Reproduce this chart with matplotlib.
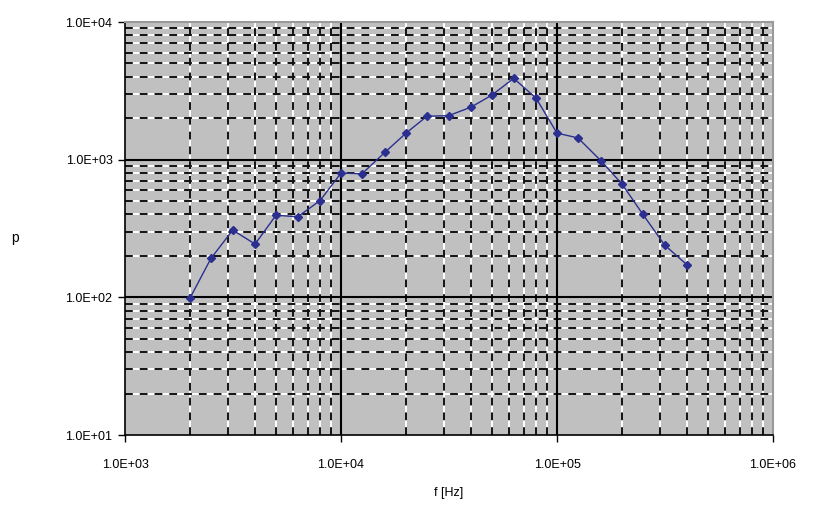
import matplotlib
matplotlib.use("Agg")
import matplotlib.pyplot as plt
import numpy as np

freq = [2000, 2500, 3150, 4000, 5000, 6300, 8000, 10000, 12500, 16000, 20000, 25000,
        31500, 40000, 50000, 63000, 80000, 100000, 125000, 160000, 200000, 250000, 315000, 400000]
p_vals = [99, 192, 308, 244, 395, 385, 505, 800, 790, 1135, 1560, 2070,
          2090, 2410, 2950, 3900, 2800, 1560, 1440, 980, 665, 400, 240, 172]
x_ticks = [1e3, 1e4, 1e5, 1e6]
y_ticks = [1e1, 1e2, 1e3, 1e4]

plt.rcParams['font.family'] = ['Liberation Sans', 'DejaVu Sans']

fig = plt.figure(figsize=(8.13, 5.13), dpi=100)
ax = fig.add_axes([0.1538, 0.152, 0.797, 0.805])
ax.set_facecolor('#c0c0c0')
ax.set_xscale('log')
ax.set_yscale('log')
ax.set_xlim(1e3, 1e6)
ax.set_ylim(1e1, 1e4)

lw_minor = 1.4
dash = (0, (4.0, 3.6))
# minor grid: white underlay then black dashes
for v in [m * d for d in [1e3, 1e4, 1e5] for m in range(2, 10)]:
    ax.axvline(v, color='white', lw=lw_minor, zorder=1)
    ax.axvline(v, color='#111111', lw=lw_minor, ls=dash, zorder=1.1)
for v in [m * d for d in [1e1, 1e2, 1e3] for m in range(2, 10)]:
    ax.axhline(v, color='white', lw=lw_minor, zorder=1)
    ax.axhline(v, color='#111111', lw=lw_minor, ls=dash, zorder=1.1)
for v in x_ticks[1:-1]:
    ax.axvline(v, color='black', lw=1.5, zorder=1.5)
for v in y_ticks[1:-1]:
    ax.axhline(v, color='black', lw=1.5, zorder=1.5)

ax.plot(freq, p_vals, color='#2b2f8f', lw=1.0, marker='D', markersize=4.5, zorder=3)

ax.set_xticks(x_ticks)
ax.set_yticks(y_ticks)
ax.set_xticklabels(['1.0E+03', '1.0E+04', '1.0E+05', '1.0E+06'])
ax.set_yticklabels(['1.0E+01', '1.0E+02', '1.0E+03', '1.0E+04'])
ax.minorticks_off()
ax.tick_params(axis='both', which='major', direction='out', length=5, width=1,
               labelsize=9, color='black')
ax.tick_params(axis='x', pad=12)
ax.tick_params(axis='y', pad=4)

for s in ['left', 'bottom']:
    ax.spines[s].set_color('black')
    ax.spines[s].set_linewidth(1.2)
for s in ['top', 'right']:
    ax.spines[s].set_color('#9a9a9a')
    ax.spines[s].set_linewidth(1.5)

ax.set_xlabel('f [Hz]', fontsize=9, labelpad=12)
ax.set_ylabel('p', fontsize=10, rotation=0, labelpad=10)
ax.yaxis.set_label_coords(-0.17, 0.46)

fig.savefig('out.png', dpi=100)
